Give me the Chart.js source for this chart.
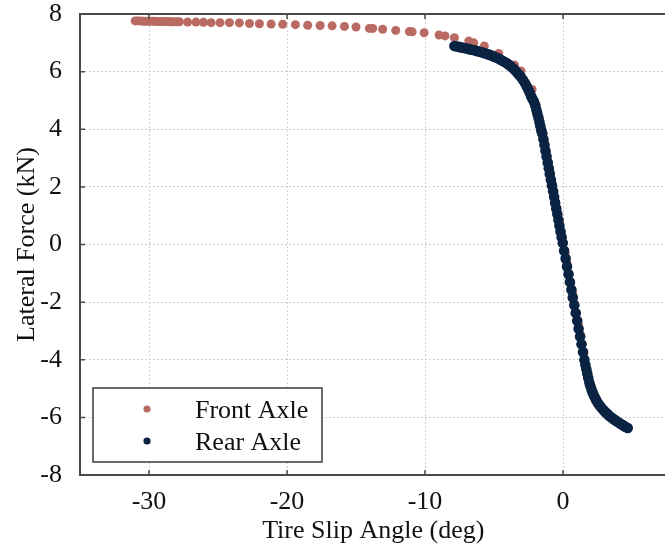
<!DOCTYPE html>
<html>
<head>
<meta charset="utf-8">
<title>Lateral force vs tire slip angle</title>
<script src="https://cdn.jsdelivr.net/npm/chart.js@4.4.1/dist/chart.umd.min.js"></script>
<style>
  html, body { margin: 0; padding: 0; background: #fff; overflow: hidden; }
  #wrap { position: relative; width: 672px; height: 550px; }
</style>
</head>
<body>
<div id="wrap"><canvas id="slipCanvas"></canvas></div>
<script>
// series names
const seriesLabels = ['Front Axle', 'Rear Axle'];

// front axle: slip angle (deg) / lateral force (kN)
const frontSlip = [
  -31.0, -30.8, -30.6, -30.4, -30.2, -30.0, -29.8, -29.6, -29.4, -29.2, -29.0, -28.8, -28.6, -28.4, -28.2, -28.0, -27.8,
  -27.2, -26.6, -26.06, -25.5, -24.85, -24.17, -23.45, -22.72, -22.0, -21.15, -20.31, -19.39, -18.5, -17.6, -16.73,
  -15.84, -15.0, -14.03, -13.79, -13.07, -12.12, -11.13, -10.93, -10.06, -8.98, -8.55, -7.87, -6.83, -6.47, -5.70,
  -4.66, -3.52, -3.04, -2.24, -1.95, -1.72, -1.52, -1.34, -1.21, -1.07, -0.93, -0.80, -0.66, -0.53, -0.39, -0.25,
  -0.12, 0.02, 0.15, 0.29, 0.42, 0.56, 0.70, 0.83, 0.97, 1.10, 1.24, 1.38, 1.51, 1.64, 1.74, 1.84, 1.96, 2.10, 2.27, 2.42
];
const frontForce = [
  7.76, 7.76, 7.76, 7.75, 7.75, 7.75, 7.75, 7.75, 7.74, 7.74, 7.74, 7.74, 7.74, 7.73, 7.73, 7.73, 7.73,
  7.72, 7.72, 7.71, 7.70, 7.70, 7.70, 7.69, 7.67, 7.66, 7.65, 7.64, 7.63, 7.61, 7.60, 7.59,
  7.57, 7.55, 7.50, 7.50, 7.47, 7.43, 7.39, 7.38, 7.35, 7.27, 7.24, 7.18, 7.06, 7.00, 6.89,
  6.63, 6.23, 6.02, 5.38, 4.85, 4.35, 3.90, 3.55, 3.20, 2.85, 2.50, 2.15, 1.80, 1.45, 1.10, 0.75,
  0.40, 0.05, -0.30, -0.65, -1.00, -1.35, -1.70, -2.05, -2.40, -2.75, -3.10, -3.45, -3.80, -4.15, -4.42, -4.67, -4.90, -5.10, -5.28, -5.42
];

// rear axle: slip angle (deg) / lateral force (kN)
const rearSlip = [
  -7.87, -7.70, -7.55, -7.40, -7.25, -7.10, -6.95, -6.80, -6.65, -6.50, -6.35, -6.20, -6.05, -5.90, -5.75, -5.60,
  -5.45, -5.30, -5.15, -5.00, -4.85, -4.70, -4.55, -4.40, -4.25, -4.10, -3.95, -3.80, -3.65, -3.50, -3.35, -3.20,
  -3.05, -2.90, -2.75, -2.62, -2.50, -2.40, -2.30, -2.20, -2.10, -2.01, -1.93, -1.86, -1.78, -1.71, -1.64, -1.57,
  -1.50, -1.42, -1.34, -1.27, -1.19, -1.11, -1.03, -0.96, -0.88, -0.80, -0.72, -0.64, -0.57, -0.49, -0.41, -0.33,
  -0.26, -0.18, -0.10, -0.02, 0.08, 0.19, 0.29, 0.40, 0.50, 0.61, 0.71, 0.82, 0.92, 1.03, 1.13, 1.24, 1.34, 1.45,
  1.55, 1.62, 1.69, 1.76, 1.83, 1.91, 1.99, 2.07, 2.15, 2.24, 2.33, 2.42, 2.52, 2.63, 2.74, 2.86, 2.98, 3.10,
  3.22, 3.34, 3.46, 3.58, 3.70, 3.82, 3.94, 4.06, 4.18, 4.30, 4.42, 4.54, 4.69
];
const rearForce = [
  6.89, 6.87, 6.86, 6.84, 6.83, 6.81, 6.80, 6.78, 6.76, 6.75, 6.73, 6.71, 6.69, 6.67, 6.65, 6.63,
  6.60, 6.58, 6.55, 6.52, 6.49, 6.46, 6.42, 6.38, 6.34, 6.30, 6.25, 6.19, 6.13, 6.06, 5.98, 5.90,
  5.81, 5.71, 5.60, 5.48, 5.36, 5.25, 5.14, 5.04, 4.95, 4.82, 4.68, 4.55, 4.40, 4.25, 4.10, 3.96,
  3.85, 3.65, 3.45, 3.25, 3.05, 2.85, 2.65, 2.45, 2.25, 2.05, 1.85, 1.65, 1.45, 1.25, 1.05, 0.85,
  0.65, 0.45, 0.25, 0.05, -0.22, -0.49, -0.76, -1.03, -1.30, -1.57, -1.84, -2.11, -2.38, -2.65, -2.92, -3.19, -3.46, -3.73,
  -4.00, -4.17, -4.33, -4.48, -4.63, -4.80, -4.92, -5.04, -5.14, -5.24, -5.33, -5.41, -5.50, -5.57, -5.64, -5.71, -5.77, -5.83,
  -5.88, -5.94, -5.99, -6.03, -6.07, -6.11, -6.15, -6.19, -6.23, -6.26, -6.30, -6.33, -6.37
];

// axis ticks
const xTicks = [-30, -20, -10, 0];
const yTicks = [-8, -6, -4, -2, 0, 2, 4, 6, 8];

const frontColor = '#b96a62';
const rearColor = '#0a2343';
const axisColor = '#4a4a4a';
const gridColor = '#cfcfcf';
const serif = "'Liberation Serif', 'Times New Roman', serif";

const toPoints = (xs, ys) => xs.map((v, i) => ({ x: v, y: ys[i] }));

// top outline, inward ticks and the legend inside the plot
const frameDecor = {
  id: 'frameDecor',
  afterDraw(chart) {
    const { ctx, chartArea: { left, right, top, bottom }, scales: { x, y } } = chart;
    ctx.save();
    ctx.strokeStyle = axisColor;
    ctx.lineWidth = 2;
    ctx.beginPath();
    ctx.moveTo(left, top);
    ctx.lineTo(right, top);
    ctx.stroke();

    ctx.lineWidth = 1.5;
    ctx.beginPath();
    x.ticks.forEach(t => {
      const px = x.getPixelForValue(t.value);
      ctx.moveTo(px, bottom); ctx.lineTo(px, bottom - 5);
      ctx.moveTo(px, top); ctx.lineTo(px, top + 5);
    });
    y.ticks.forEach(t => {
      const py = y.getPixelForValue(t.value);
      ctx.moveTo(left, py); ctx.lineTo(left + 5, py);
    });
    ctx.stroke();

    // legend
    const bx = 93, by = 388, bw = 229, bh = 74;
    ctx.fillStyle = '#fff';
    ctx.fillRect(bx, by, bw, bh);
    ctx.strokeStyle = '#3a3a3a';
    ctx.lineWidth = 1.5;
    ctx.strokeRect(bx, by, bw, bh);
    ctx.font = '26px ' + serif;
    ctx.textBaseline = 'alphabetic';
    ctx.textAlign = 'left';
    chart.data.datasets.forEach((ds, i) => {
      const cy = 409 + i * 32;
      ctx.fillStyle = ds.backgroundColor;
      ctx.beginPath();
      ctx.arc(147, cy, 3.6, 0, Math.PI * 2);
      ctx.fill();
      ctx.fillStyle = '#111';
      ctx.fillText(ds.label, 195, cy + 9);
    });
    ctx.restore();
  }
};

const ctx = document.getElementById('slipCanvas').getContext('2d');

new Chart(ctx, {
  type: 'scatter',
  data: {
    datasets: [
      {
        label: seriesLabels[0],
        data: toPoints(frontSlip, frontForce),
        backgroundColor: frontColor,
        borderWidth: 0,
        pointRadius: 4.5,
        order: 1
      },
      {
        label: seriesLabels[1],
        data: toPoints(rearSlip, rearForce),
        backgroundColor: rearColor,
        borderWidth: 0,
        pointRadius: 5.3,
        order: 0
      }
    ]
  },
  options: {
    responsive: true,
    maintainAspectRatio: false,
    animation: false,
    layout: { padding: { top: 14, right: 5.5, left: 0, bottom: 0 } },
    plugins: {
      legend: { display: false },
      tooltip: { enabled: false }
    },
    scales: {
      x: {
        type: 'linear',
        min: -35,
        max: 7.5,
        afterBuildTicks: s => { s.ticks = xTicks.map(v => ({ value: v })); },
        afterFit: s => { s.height = 75; s.paddingLeft = 0; s.paddingRight = 0; },
        grid: { color: gridColor, lineWidth: 1, drawTicks: false },
        border: { display: true, color: axisColor, width: 2, dash: [2, 2] },
        ticks: { color: '#111', padding: 12, font: { family: serif, size: 26 } },
        title: {
          display: true,
          text: 'Tire Slip Angle (deg)',
          color: '#111',
          font: { family: serif, size: 26 },
          padding: { top: 0, bottom: 3 }
        }
      },
      y: {
        type: 'linear',
        min: -8,
        max: 8,
        afterBuildTicks: s => { s.ticks = yTicks.map(v => ({ value: v })); },
        afterFit: s => { s.width = 80; s.paddingTop = 0; s.paddingBottom = 0; },
        grid: {
          color: c => (c.tick && Math.abs(c.tick.value) === 8 ? 'rgba(0,0,0,0)' : gridColor),
          lineWidth: 1,
          drawTicks: false
        },
        border: { display: true, color: axisColor, width: 2, dash: [2, 2] },
        ticks: { color: '#111', padding: 18, font: { family: serif, size: 26, lineHeight: 1 } },
        title: {
          display: true,
          text: 'Lateral Force (kN)',
          color: '#111',
          font: { family: serif, size: 26 },
          padding: { top: 12, bottom: 0 }
        }
      }
    }
  },
  plugins: [frameDecor]
});
</script>
</body>
</html>
